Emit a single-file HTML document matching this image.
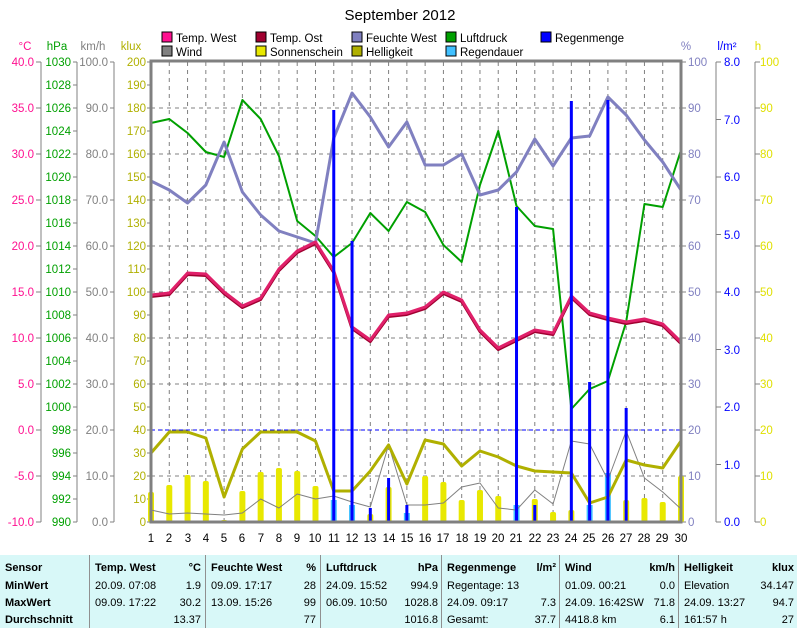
<!DOCTYPE html>
<html><head><meta charset="utf-8"><style>
body{margin:0;background:#fff;width:797px;height:628px;overflow:hidden;font-family:"Liberation Sans",sans-serif}
svg{position:absolute;left:0;top:0}
text{font-family:"Liberation Sans",sans-serif;font-size:11.5px}
.tb{position:absolute;left:0;top:555px;width:797px;height:73px;background:#d8f8f8;font-family:"Liberation Sans",sans-serif;font-size:11px;color:#000}
.c{position:absolute;top:0;height:73px;border-left:1px solid #909090}
.r{position:absolute;left:0;right:4px;height:17px;line-height:17px;white-space:nowrap}
.r span{position:absolute}
.b{font-weight:bold}
</style></head><body>
<svg id="s" width="797" height="628" xmlns="http://www.w3.org/2000/svg">
<text x="400" y="20" text-anchor="middle" style="font-size:15px">September 2012</text>
<g>
<rect x="162" y="32" width="10" height="10" fill="#ff1090" stroke="#000"/><text x="176" y="42">Temp. West</text>
<rect x="162" y="46" width="10" height="10" fill="#808080" stroke="#000"/><text x="176" y="56">Wind</text>
<rect x="256" y="32" width="10" height="10" fill="#a00030" stroke="#000"/><text x="270" y="42">Temp. Ost</text>
<rect x="256" y="46" width="10" height="10" fill="#e8e800" stroke="#000"/><text x="270" y="56">Sonnenschein</text>
<rect x="352" y="32" width="10" height="10" fill="#8080c0" stroke="#000"/><text x="366" y="42">Feuchte West</text>
<rect x="352" y="46" width="10" height="10" fill="#b0b000" stroke="#000"/><text x="366" y="56">Helligkeit</text>
<rect x="446" y="32" width="10" height="10" fill="#00a000" stroke="#000"/><text x="460" y="42">Luftdruck</text>
<rect x="446" y="46" width="10" height="10" fill="#40c0ff" stroke="#000"/><text x="460" y="56">Regendauer</text>
<rect x="541" y="32" width="10" height="10" fill="#0000ff" stroke="#000"/><text x="555" y="42">Regenmenge</text>
</g>
<text x="25" y="50" fill="#ff1090" text-anchor="middle">°C</text>
<text x="57" y="50" fill="#00a000" text-anchor="middle">hPa</text>
<text x="93" y="50" fill="#808080" text-anchor="middle">km/h</text>
<text x="131" y="50" fill="#b0b000" text-anchor="middle">klux</text>
<text x="686" y="50" fill="#8080c0" text-anchor="middle">%</text>
<text x="727" y="50" fill="#0000ff" text-anchor="middle">l/m²</text>
<text x="758" y="50" fill="#e0e000" text-anchor="middle">h</text>
<g id="grid"></g>
<g text-anchor="end" fill="#ff1090">
<text x="34" y="66">40.0</text><text x="34" y="112">35.0</text><text x="34" y="158">30.0</text><text x="34" y="204">25.0</text><text x="34" y="250">20.0</text><text x="34" y="296">15.0</text><text x="34" y="342">10.0</text><text x="34" y="388">5.0</text><text x="34" y="434">0.0</text><text x="34" y="480">-5.0</text><text x="34" y="526">-10.0</text>
</g>
<g text-anchor="end" fill="#00a000">
<text x="71" y="66">1030</text><text x="71" y="89">1028</text><text x="71" y="112">1026</text><text x="71" y="135">1024</text><text x="71" y="158">1022</text><text x="71" y="181">1020</text><text x="71" y="204">1018</text><text x="71" y="227">1016</text><text x="71" y="250">1014</text><text x="71" y="273">1012</text><text x="71" y="296">1010</text><text x="71" y="319">1008</text><text x="71" y="342">1006</text><text x="71" y="365">1004</text><text x="71" y="388">1002</text><text x="71" y="411">1000</text><text x="71" y="434">998</text><text x="71" y="457">996</text><text x="71" y="480">994</text><text x="71" y="503">992</text><text x="71" y="526">990</text>
</g>
<g text-anchor="end" fill="#808080">
<text x="108" y="66">100.0</text><text x="108" y="112">90.0</text><text x="108" y="158">80.0</text><text x="108" y="204">70.0</text><text x="108" y="250">60.0</text><text x="108" y="296">50.0</text><text x="108" y="342">40.0</text><text x="108" y="388">30.0</text><text x="108" y="434">20.0</text><text x="108" y="480">10.0</text><text x="108" y="526">0.0</text>
</g>
<g text-anchor="end" fill="#b0b000">
<text x="146" y="66">200</text><text x="146" y="89">190</text><text x="146" y="112">180</text><text x="146" y="135">170</text><text x="146" y="158">160</text><text x="146" y="181">150</text><text x="146" y="204">140</text><text x="146" y="227">130</text><text x="146" y="250">120</text><text x="146" y="273">110</text><text x="146" y="296">100</text><text x="146" y="319">90</text><text x="146" y="342">80</text><text x="146" y="365">70</text><text x="146" y="388">60</text><text x="146" y="411">50</text><text x="146" y="434">40</text><text x="146" y="457">30</text><text x="146" y="480">20</text><text x="146" y="503">10</text><text x="146" y="526">0</text>
</g>
<g fill="#8080c0">
<text x="688" y="66">100</text><text x="688" y="112">90</text><text x="688" y="158">80</text><text x="688" y="204">70</text><text x="688" y="250">60</text><text x="688" y="296">50</text><text x="688" y="342">40</text><text x="688" y="388">30</text><text x="688" y="434">20</text><text x="688" y="480">10</text><text x="688" y="526">0</text>
</g>
<g fill="#0000ff">
<text x="724" y="66">8.0</text><text x="724" y="124">7.0</text><text x="724" y="181">6.0</text><text x="724" y="239">5.0</text><text x="724" y="296">4.0</text><text x="724" y="354">3.0</text><text x="724" y="411">2.0</text><text x="724" y="469">1.0</text><text x="724" y="526">0.0</text>
</g>
<g fill="#e0e000">
<text x="760" y="66">100</text><text x="760" y="112">90</text><text x="760" y="158">80</text><text x="760" y="204">70</text><text x="760" y="250">60</text><text x="760" y="296">50</text><text x="760" y="342">40</text><text x="760" y="388">30</text><text x="760" y="434">20</text><text x="760" y="480">10</text><text x="760" y="526">0</text>
</g>
<g text-anchor="middle">
<text x="151" y="542">1</text><text x="169" y="542">2</text><text x="188" y="542">3</text><text x="206" y="542">4</text><text x="224" y="542">5</text><text x="242" y="542">6</text><text x="261" y="542">7</text><text x="279" y="542">8</text><text x="297" y="542">9</text><text x="315" y="542">10</text><text x="334" y="542">11</text><text x="352" y="542">12</text><text x="370" y="542">13</text><text x="389" y="542">14</text><text x="407" y="542">15</text><text x="425" y="542">16</text><text x="443" y="542">17</text><text x="462" y="542">18</text><text x="480" y="542">19</text><text x="498" y="542">20</text><text x="516" y="542">21</text><text x="535" y="542">22</text><text x="553" y="542">23</text><text x="571" y="542">24</text><text x="589" y="542">25</text><text x="608" y="542">26</text><text x="626" y="542">27</text><text x="644" y="542">28</text><text x="662" y="542">29</text><text x="681" y="542">30</text>
</g>
<g id="data"></g>
</svg>
<div class="tb">
<div class="c" style="left:0;border:none;width:88px"><div class="r b" style="top:5px"><span style="left:5px">Sensor</span></div><div class="r b" style="top:22.5px"><span style="left:5px">MinWert</span></div><div class="r b" style="top:40px"><span style="left:5px">MaxWert</span></div><div class="r b" style="top:57px"><span style="left:5px">Durchschnitt</span></div></div>
<div class="c" style="left:89px;width:115px"><div class="r b" style="top:5px"><span style="left:5px">Temp. West</span><span style="right:0">°C</span></div><div class="r" style="top:22.5px"><span style="left:5px">20.09.  07:08</span><span style="right:0">1.9</span></div><div class="r" style="top:40px"><span style="left:5px">09.09.  17:22</span><span style="right:0">30.2</span></div><div class="r" style="top:57px"><span style="right:0">13.37</span></div></div>
<div class="c" style="left:205px;width:114px"><div class="r b" style="top:5px"><span style="left:5px">Feuchte West</span><span style="right:0">%</span></div><div class="r" style="top:22.5px"><span style="left:5px">09.09.  17:17</span><span style="right:0">28</span></div><div class="r" style="top:40px"><span style="left:5px">13.09.  15:26</span><span style="right:0">99</span></div><div class="r" style="top:57px"><span style="right:0">77</span></div></div>
<div class="c" style="left:320px;width:121px"><div class="r b" style="top:5px"><span style="left:5px">Luftdruck</span><span style="right:0">hPa</span></div><div class="r" style="top:22.5px"><span style="left:5px">24.09.  15:52</span><span style="right:0">994.9</span></div><div class="r" style="top:40px"><span style="left:5px">06.09.  10:50</span><span style="right:0">1028.8</span></div><div class="r" style="top:57px"><span style="right:0">1016.8</span></div></div>
<div class="c" style="left:441px;width:118px"><div class="r b" style="top:5px"><span style="left:5px">Regenmenge</span><span style="right:0">l/m²</span></div><div class="r" style="top:22.5px"><span style="left:5px">Regentage: 13</span></div><div class="r" style="top:40px"><span style="left:5px">24.09.  09:17</span><span style="right:0">7.3</span></div><div class="r" style="top:57px"><span style="left:5px">Gesamt:</span><span style="right:0">37.7</span></div></div>
<div class="c" style="left:559px;width:119px"><div class="r b" style="top:5px"><span style="left:5px">Wind</span><span style="right:0">km/h</span></div><div class="r" style="top:22.5px"><span style="left:5px">01.09.  00:21</span><span style="right:0">0.0</span></div><div class="r" style="top:40px"><span style="left:5px">24.09.  16:42SW</span><span style="right:0">71.8</span></div><div class="r" style="top:57px"><span style="left:5px">4418.8 km</span><span style="right:0">6.1</span></div></div>
<div class="c" style="left:678px;width:119px"><div class="r b" style="top:5px"><span style="left:5px">Helligkeit</span><span style="right:0">klux</span></div><div class="r" style="top:22.5px"><span style="left:5px">Elevation</span><span style="right:0">34.147</span></div><div class="r" style="top:40px"><span style="left:5px">24.09.  13:27</span><span style="right:0">94.7</span></div><div class="r" style="top:57px"><span style="left:5px">161:57 h</span><span style="right:0">27</span></div></div>
</div>
<script>
var NS="http://www.w3.org/2000/svg";
function X(d){return 151+(d-1)*530/29;}
function el(p,t,a){var e=document.createElementNS(NS,t);for(var k in a)e.setAttribute(k,a[k]);p.appendChild(e);return e;}
var g=document.getElementById('grid'),D=document.getElementById('data');
for(var i=1;i<10;i++){var y=62+i*46;el(g,'line',{x1:151,x2:681,y1:y,y2:y,stroke:'#808080','stroke-dasharray':'4,4'});}
for(var d=2;d<30;d++){el(g,'line',{x1:X(d),x2:X(d),y1:62,y2:522,stroke:'#808080','stroke-dasharray':'4,4'});}
[[41,36,'#808080',46,10],[77,73,'#808080',23,20],[114,110,'#808080',46,10]].forEach(function(a){el(g,'line',{x1:a[0],x2:a[0],y1:62,y2:522,stroke:a[2]});for(var i=0;i<=a[4];i++)el(g,'line',{x1:a[1],x2:a[0],y1:62+i*a[3],y2:62+i*a[3],stroke:a[2]});});
for(var i=0;i<=20;i++)el(g,'line',{x1:147,x2:151,y1:62+i*23,y2:62+i*23,stroke:'#808080'});
for(var i=0;i<=10;i++)el(g,'line',{x1:681,x2:686,y1:62+i*46,y2:62+i*46,stroke:'#808080'});
el(g,'line',{x1:716,x2:716,y1:62,y2:522,stroke:'#808080'});
for(var i=0;i<=8;i++)el(g,'line',{x1:716,x2:721,y1:62+i*57.5,y2:62+i*57.5,stroke:'#808080'});
el(g,'line',{x1:755,x2:755,y1:62,y2:522,stroke:'#808080'});
for(var i=0;i<=10;i++)el(g,'line',{x1:755,x2:760,y1:62+i*46,y2:62+i*46,stroke:'#808080'});
el(g,'line',{x1:151,x2:681,y1:430,y2:430,stroke:'#0000ff','stroke-dasharray':'4,3'});
function pl(arr,col,w){el(D,'polyline',{points:arr.map(function(y,i){return X(i+1)+','+y;}).join(' '),fill:'none',stroke:col,'stroke-width':w,'stroke-linejoin':'round'});}
var sun=[492,485,475,481,520,491,472,468,471,486,520,520,514,487,520,476,482,500,490,496,515,499,512,510,520,518,500,498,502,476];
sun.forEach(function(y,i){if(y<521)el(D,'rect',{x:X(i+1)-3,y:y,width:6,height:522-y,fill:'#e8e800',rx:2});});
var dur={11:500,12:505,15:513,21:505,25:505,26:473};
for(var k in dur)el(D,'rect',{x:X(+k)-3,y:dur[k],width:6,height:522-dur[k],fill:'#40c0ff'});
pl([510,514,513,514,515,513,499,508,494,499,496,502,507,445,505,505,503,487,483,508,510,490,504,441,444,480,431,478,492,509],'#808080',1);
pl([453,432,432,438,497,449,432,432,432,441,491,491,471,445,484,440,444,466,451,457,466,471,472,473,503,497,460,465,468,441],'#b0b000',3);
pl([123,119,133,152,157,100,119,156,221,236,257,243,213,231,202,212,245,262,185,131,206,226,229,409,389,381,322,204,207,150],'#00a000',2);
pl([181,190,203,185,142,192,215,231,237,243,138,93,117,147,122,165,165,154,195,190,172,139,166,138,136,97,115,140,162,190],'#8080c0',3);
var t=[295,293,273,274,292,306,298,269,251,242,271,327,340,315,313,307,292,300,330,348,339,330,333,296,313,318,322,319,324,342];
pl(t.map(function(v){return v+1.5;}),'#a00030',3);
pl(t,'#e0206a',3);
var rain={1:513,11:110,12:241,13:508,14:478,15:505,21:207,22:505,24:101,25:382,26:100,27:408};
for(var k in rain)el(D,'line',{x1:X(+k),x2:X(+k),y1:rain[k],y2:522,stroke:'#0000ff','stroke-width':3});
el(D,'rect',{x:151,y:61,width:530,height:461,fill:'none',stroke:'#808080','stroke-width':3});
</script>
</body></html>
